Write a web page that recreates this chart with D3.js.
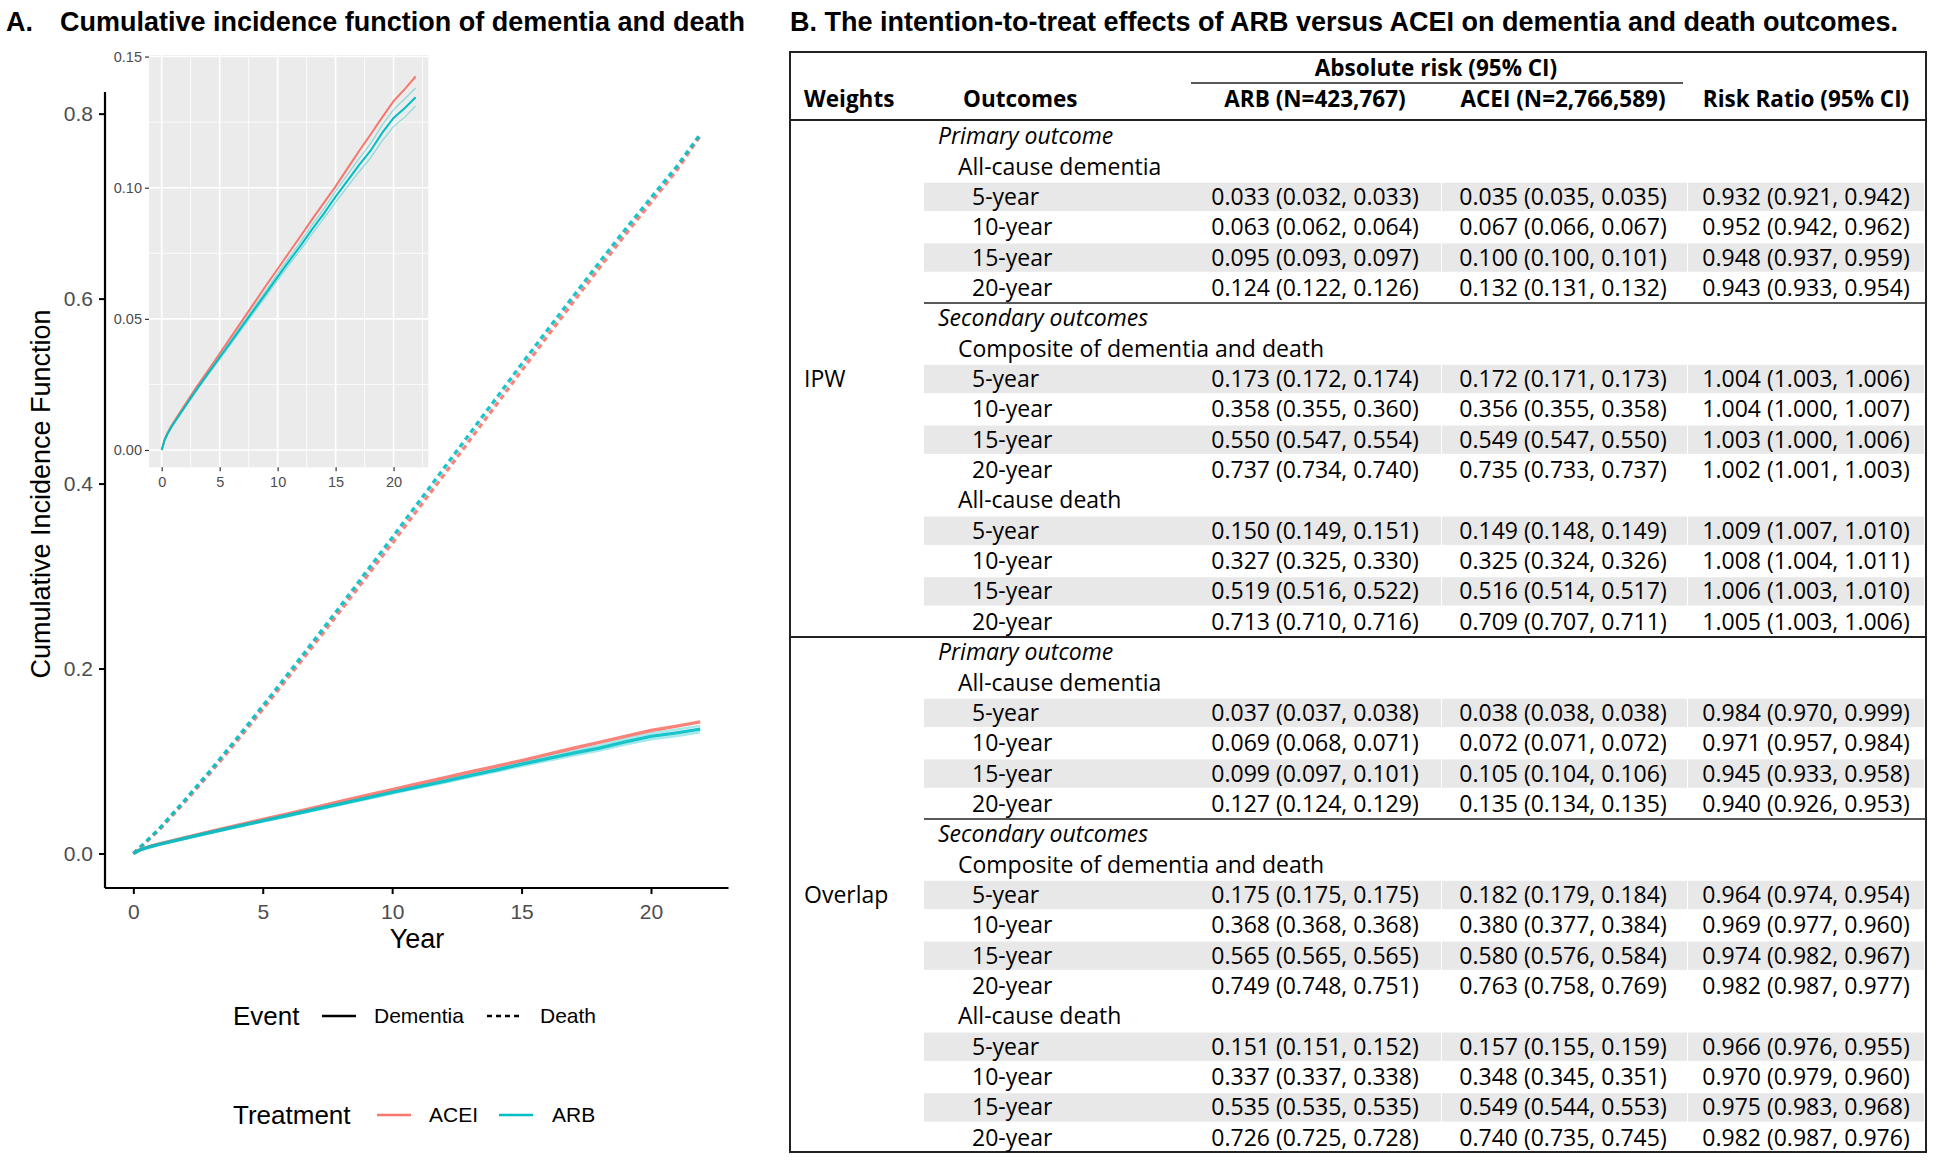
<!DOCTYPE html>
<html>
<head>
<meta charset="utf-8">
<script src="https://cdn.jsdelivr.net/npm/d3@7"></script>
<style>
  body { margin: 0; background: #fff; }
  svg { display: block; }
</style>
</head>
<body>
<svg id="fig" width="1936" height="1162"></svg>
<script>
// ---- curve data ----
var years      = [0, 0.25, 0.5, 0.75, 1, 2, 3, 4, 5, 6, 7, 8, 9, 10, 11, 12, 13, 14, 15, 16, 17, 18, 19, 20, 21, 21.9];
var aceiDem    = [0, 0.0040, 0.0065, 0.0086, 0.0104, 0.0172, 0.0240, 0.0303, 0.0368, 0.0432, 0.0497, 0.0562, 0.0627, 0.0690, 0.0754, 0.0817, 0.0881, 0.0943, 0.1005, 0.1072, 0.1138, 0.1202, 0.1267, 0.1330, 0.1378, 0.1424];
var arbDem     = [0, 0.0037, 0.0061, 0.0081, 0.0099, 0.0165, 0.0230, 0.0292, 0.0353, 0.0414, 0.0476, 0.0537, 0.0598, 0.0660, 0.0721, 0.0780, 0.0843, 0.0902, 0.0966, 0.1025, 0.1085, 0.1140, 0.1208, 0.1266, 0.1305, 0.1345];
var arbDemLo   = [0, 0.0036, 0.0059, 0.0079, 0.0096, 0.0161, 0.0225, 0.0286, 0.0346, 0.0406, 0.0467, 0.0527, 0.0587, 0.0648, 0.0708, 0.0765, 0.0826, 0.0884, 0.0945, 0.1002, 0.1060, 0.1113, 0.1178, 0.1234, 0.1270, 0.1312];
var arbDemHi   = [0, 0.0038, 0.0063, 0.0083, 0.0102, 0.0169, 0.0235, 0.0298, 0.0360, 0.0422, 0.0485, 0.0547, 0.0609, 0.0672, 0.0734, 0.0795, 0.0860, 0.0920, 0.0987, 0.1048, 0.1110, 0.1167, 0.1238, 0.1298, 0.1340, 0.1380];
var aceiDeath  = [0, 0.0060, 0.0125, 0.0190, 0.0255, 0.0560, 0.0880, 0.1215, 0.1560, 0.1910, 0.2265, 0.2625, 0.2990, 0.3355, 0.3725, 0.4095, 0.4470, 0.4845, 0.5220, 0.5595, 0.5965, 0.6330, 0.6690, 0.7040, 0.7390, 0.7760];
var arbDeath   = [0, 0.0065, 0.0132, 0.0200, 0.0268, 0.0580, 0.0905, 0.1245, 0.1595, 0.1950, 0.2310, 0.2675, 0.3045, 0.3415, 0.3790, 0.4165, 0.4540, 0.4915, 0.5290, 0.5660, 0.6025, 0.6390, 0.6745, 0.7090, 0.7430, 0.7775];

var mainYTicks  = [0, 0.2, 0.4, 0.6, 0.8];
var xTicks      = [0, 5, 10, 15, 20];
var insetYTicks = [0, 0.05, 0.10, 0.15];

// ---- table data ----
var weights    = ["IPW", "Overlap"];
var horizons   = ["5-year", "10-year", "15-year", "20-year"];
var ipwARB  = ["0.033 (0.032, 0.033)", "0.063 (0.062, 0.064)", "0.095 (0.093, 0.097)", "0.124 (0.122, 0.126)",
               "0.173 (0.172, 0.174)", "0.358 (0.355, 0.360)", "0.550 (0.547, 0.554)", "0.737 (0.734, 0.740)",
               "0.150 (0.149, 0.151)", "0.327 (0.325, 0.330)", "0.519 (0.516, 0.522)", "0.713 (0.710, 0.716)"];
var ipwACEI = ["0.035 (0.035, 0.035)", "0.067 (0.066, 0.067)", "0.100 (0.100, 0.101)", "0.132 (0.131, 0.132)",
               "0.172 (0.171, 0.173)", "0.356 (0.355, 0.358)", "0.549 (0.547, 0.550)", "0.735 (0.733, 0.737)",
               "0.149 (0.148, 0.149)", "0.325 (0.324, 0.326)", "0.516 (0.514, 0.517)", "0.709 (0.707, 0.711)"];
var ipwRR   = ["0.932 (0.921, 0.942)", "0.952 (0.942, 0.962)", "0.948 (0.937, 0.959)", "0.943 (0.933, 0.954)",
               "1.004 (1.003, 1.006)", "1.004 (1.000, 1.007)", "1.003 (1.000, 1.006)", "1.002 (1.001, 1.003)",
               "1.009 (1.007, 1.010)", "1.008 (1.004, 1.011)", "1.006 (1.003, 1.010)", "1.005 (1.003, 1.006)"];
var ovARB   = ["0.037 (0.037, 0.038)", "0.069 (0.068, 0.071)", "0.099 (0.097, 0.101)", "0.127 (0.124, 0.129)",
               "0.175 (0.175, 0.175)", "0.368 (0.368, 0.368)", "0.565 (0.565, 0.565)", "0.749 (0.748, 0.751)",
               "0.151 (0.151, 0.152)", "0.337 (0.337, 0.338)", "0.535 (0.535, 0.535)", "0.726 (0.725, 0.728)"];
var ovACEI  = ["0.038 (0.038, 0.038)", "0.072 (0.071, 0.072)", "0.105 (0.104, 0.106)", "0.135 (0.134, 0.135)",
               "0.182 (0.179, 0.184)", "0.380 (0.377, 0.384)", "0.580 (0.576, 0.584)", "0.763 (0.758, 0.769)",
               "0.157 (0.155, 0.159)", "0.348 (0.345, 0.351)", "0.549 (0.544, 0.553)", "0.740 (0.735, 0.745)"];
var ovRR    = ["0.984 (0.970, 0.999)", "0.971 (0.957, 0.984)", "0.945 (0.933, 0.958)", "0.940 (0.926, 0.953)",
               "0.964 (0.974, 0.954)", "0.969 (0.977, 0.960)", "0.974 (0.982, 0.967)", "0.982 (0.987, 0.977)",
               "0.966 (0.976, 0.955)", "0.970 (0.979, 0.960)", "0.975 (0.983, 0.968)", "0.982 (0.987, 0.976)"];

var RED = "#F8766D", TEAL = "#00BFC4";
var svg = d3.select("#fig");
var sans = "'Liberation Sans', Arial, sans-serif";
var tfont = "'Open Sans', sans-serif";

// ---- panel titles ----
svg.append("text").attr("x", 6).attr("y", 31).attr("font-family", sans).attr("font-weight", "bold")
   .attr("font-size", 27).text("A.");
svg.append("text").attr("x", 60).attr("y", 31).attr("font-family", sans).attr("font-weight", "bold")
   .attr("font-size", 27).attr("textLength", 685).attr("lengthAdjust", "spacingAndGlyphs")
   .text("Cumulative incidence function of dementia and death");
svg.append("text").attr("x", 790).attr("y", 31).attr("font-family", sans).attr("font-weight", "bold")
   .attr("font-size", 27).attr("textLength", 1108).attr("lengthAdjust", "spacingAndGlyphs")
   .text("B. The intention-to-treat effects of ARB versus ACEI on dementia and death outcomes.");

// ---- main plot ----
var x = d3.scaleLinear().domain([-1.095, 22.995]).range([105, 728.5]);
var y = d3.scaleLinear().domain([-0.0373, 0.8234]).range([888, 92]);

function series(vals) { return years.map(function(t, i) { return [t, vals[i]]; }); }
var line = d3.line().x(function(d) { return x(d[0]); }).y(function(d) { return y(d[1]); });

var main = svg.append("g");
// light CI lines for ARB
[arbDemLo, arbDemHi].forEach(function(v) {
  main.append("path").attr("d", line(series(v))).attr("fill", "none")
      .attr("stroke", TEAL).attr("stroke-opacity", 0.35).attr("stroke-width", 2.5);
});
main.append("path").attr("d", line(series(aceiDeath))).attr("fill", "none").attr("stroke", RED)
    .attr("stroke-width", 3.4).attr("stroke-dasharray", "5 4").attr("stroke-opacity", 0.9);
main.append("path").attr("d", line(series(arbDeath))).attr("fill", "none").attr("stroke", TEAL)
    .attr("stroke-width", 3.4).attr("stroke-dasharray", "5 4").attr("stroke-opacity", 0.9);
main.append("path").attr("d", line(series(aceiDem))).attr("fill", "none").attr("stroke", RED)
    .attr("stroke-width", 3.4).attr("stroke-opacity", 0.9);
main.append("path").attr("d", line(series(arbDem))).attr("fill", "none").attr("stroke", TEAL)
    .attr("stroke-width", 3.4).attr("stroke-opacity", 0.9);

var xAx = main.append("g").attr("transform", "translate(0,888)")
  .call(d3.axisBottom(x).tickValues(xTicks).tickSize(6).tickPadding(6).tickFormat(d3.format("d")));
var yAx = main.append("g").attr("transform", "translate(105,0)")
  .call(d3.axisLeft(y).tickValues(mainYTicks).tickSize(6).tickPadding(6).tickFormat(d3.format(".1f")));
[xAx, yAx].forEach(function(a) {
  a.select(".domain").attr("stroke", "#000").attr("stroke-width", 2.2);
  a.selectAll(".tick line").attr("stroke", "#000").attr("stroke-width", 2);
  a.selectAll(".tick text").attr("fill", "#4D4D4D").attr("font-family", sans).attr("font-size", 21);
});
xAx.select(".domain").attr("d", "M105,0H728.5");
yAx.select(".domain").attr("d", "M0,888V92");
xAx.selectAll(".tick text").attr("dy", "0.9em");

main.append("text").attr("x", 417).attr("y", 948).attr("text-anchor", "middle")
    .attr("font-family", sans).attr("font-size", 27).text("Year");
main.append("text").attr("transform", "translate(50,494) rotate(-90)").attr("text-anchor", "middle")
    .attr("font-family", sans).attr("font-size", 27).text("Cumulative Incidence Function");

// ---- inset ----
var xi = d3.scaleLinear().domain([-1.095, 22.995]).range([149, 428.3]);
var yi = d3.scaleLinear().domain([-0.0066, 0.1506]).range([467.3, 55]);
var lineI = d3.line().x(function(d) { return xi(d[0]); }).y(function(d) { return yi(d[1]); });
var inset = svg.append("g");
inset.append("rect").attr("x", 149).attr("y", 55).attr("width", 279.3).attr("height", 412.3).attr("fill", "#EBEBEB");
var xMinor = [2.5, 7.5, 12.5, 17.5, 22.5], yMinor = [0.025, 0.075, 0.125];
xMinor.forEach(function(v) {
  inset.append("line").attr("x1", xi(v)).attr("x2", xi(v)).attr("y1", 55).attr("y2", 467.3)
       .attr("stroke", "#fff").attr("stroke-width", 0.8);
});
yMinor.forEach(function(v) {
  inset.append("line").attr("x1", 149).attr("x2", 428.3).attr("y1", yi(v)).attr("y2", yi(v))
       .attr("stroke", "#fff").attr("stroke-width", 0.8);
});
xTicks.forEach(function(v) {
  inset.append("line").attr("x1", xi(v)).attr("x2", xi(v)).attr("y1", 55).attr("y2", 467.3)
       .attr("stroke", "#fff").attr("stroke-width", 1.6);
});
insetYTicks.forEach(function(v) {
  inset.append("line").attr("x1", 149).attr("x2", 428.3).attr("y1", yi(v)).attr("y2", yi(v))
       .attr("stroke", "#fff").attr("stroke-width", 1.6);
});
[arbDemLo, arbDemHi].forEach(function(v) {
  inset.append("path").attr("d", lineI(series(v))).attr("fill", "none")
       .attr("stroke", TEAL).attr("stroke-opacity", 0.4).attr("stroke-width", 1.3);
});
inset.append("path").attr("d", lineI(series(aceiDem))).attr("fill", "none").attr("stroke", RED).attr("stroke-width", 2);
inset.append("path").attr("d", lineI(series(arbDem))).attr("fill", "none").attr("stroke", TEAL).attr("stroke-width", 2);

var xiAx = inset.append("g").attr("transform", "translate(0,467.3)")
  .call(d3.axisBottom(xi).tickValues(xTicks).tickSize(4).tickPadding(5).tickFormat(d3.format("d")));
var yiAx = inset.append("g").attr("transform", "translate(149,0)")
  .call(d3.axisLeft(yi).tickValues(insetYTicks).tickSize(4).tickPadding(3).tickFormat(d3.format(".2f")));
[xiAx, yiAx].forEach(function(a) {
  a.select(".domain").remove();
  a.selectAll(".tick line").attr("stroke", "#333").attr("stroke-width", 1.2);
  a.selectAll(".tick text").attr("fill", "#4D4D4D").attr("font-family", sans).attr("font-size", 14.5);
});

// ---- legends ----
var leg = svg.append("g").attr("font-family", sans);
leg.append("text").attr("x", 233).attr("y", 1016).attr("dy", "0.35em").attr("font-size", 26).text("Event");
leg.append("line").attr("x1", 322).attr("x2", 356).attr("y1", 1016).attr("y2", 1016).attr("stroke", "#000").attr("stroke-width", 2.6);
leg.append("text").attr("x", 374).attr("y", 1016).attr("dy", "0.35em").attr("font-size", 21).text("Dementia");
leg.append("line").attr("x1", 487).attr("x2", 522).attr("y1", 1016).attr("y2", 1016).attr("stroke", "#000")
   .attr("stroke-width", 2.6).attr("stroke-dasharray", "5 4");
leg.append("text").attr("x", 540).attr("y", 1016).attr("dy", "0.35em").attr("font-size", 21).text("Death");

leg.append("text").attr("x", 233).attr("y", 1115).attr("dy", "0.35em").attr("font-size", 26).text("Treatment");
leg.append("line").attr("x1", 377).attr("x2", 411).attr("y1", 1115).attr("y2", 1115).attr("stroke", RED).attr("stroke-width", 2.6);
leg.append("text").attr("x", 429).attr("y", 1115).attr("dy", "0.35em").attr("font-size", 21).text("ACEI");
leg.append("line").attr("x1", 499).attr("x2", 533).attr("y1", 1115).attr("y2", 1115).attr("stroke", TEAL).attr("stroke-width", 2.6);
leg.append("text").attr("x", 552).attr("y", 1115).attr("dy", "0.35em").attr("font-size", 21).text("ARB");

// ---- table ----
var T = { left: 790, right: 1926, top: 52, bottom: 1152, hdrLine: 120, rowH: 30.35, blockTop: [121, 637] };
var shadeEdges = [924, 1441, 1687, 1924];
var colCenters = [1315, 1563, 1806];
var tab = svg.append("g").attr("font-family", tfont).attr("font-size", 23).attr("fill", "#000");

tab.append("rect").attr("x", T.left).attr("y", T.top).attr("width", T.right - T.left).attr("height", T.bottom - T.top)
   .attr("fill", "none").attr("stroke", "#222").attr("stroke-width", 2);
tab.append("text").attr("x", 1436).attr("y", 68).attr("dy", "0.35em").attr("text-anchor", "middle")
   .attr("font-weight", "bold").attr("font-size", 22.5).text("Absolute risk (95% CI)");
tab.append("line").attr("x1", 1191).attr("x2", 1683).attr("y1", 83).attr("y2", 83).attr("stroke", "#222").attr("stroke-width", 1.5);
tab.append("text").attr("x", 804).attr("y", 99).attr("dy", "0.35em").attr("font-weight", "bold").attr("font-size", 22.5).text("Weights");
tab.append("text").attr("x", 963).attr("y", 99).attr("dy", "0.35em").attr("font-weight", "bold").attr("font-size", 22.5).text("Outcomes");
["ARB (N=423,767)", "ACEI (N=2,766,589)", "Risk Ratio (95% CI)"].forEach(function(h, i) {
  tab.append("text").attr("x", colCenters[i]).attr("y", 99).attr("dy", "0.35em").attr("text-anchor", "middle")
     .attr("font-weight", "bold").attr("font-size", 22.5).text(h);
});
tab.append("line").attr("x1", T.left).attr("x2", T.right).attr("y1", T.hdrLine).attr("y2", T.hdrLine)
   .attr("stroke", "#222").attr("stroke-width", 2);
tab.append("line").attr("x1", T.left).attr("x2", T.right).attr("y1", T.blockTop[1]).attr("y2", T.blockTop[1])
   .attr("stroke", "#222").attr("stroke-width", 2);

function buildRows(arb, acei, rr) {
  var rows = [];
  rows.push({ label: "Primary outcome", indent: 0, italic: true });
  rows.push({ label: "All-cause dementia", indent: 1 });
  horizons.forEach(function(h, j) { rows.push({ label: h, indent: 2, shade: j % 2 === 0, vals: [arb[j], acei[j], rr[j]] }); });
  rows.push({ label: "Secondary outcomes", indent: 0, italic: true, ruleAbove: true });
  rows.push({ label: "Composite of dementia and death", indent: 1 });
  horizons.forEach(function(h, j) { rows.push({ label: h, indent: 2, shade: j % 2 === 0, vals: [arb[4 + j], acei[4 + j], rr[4 + j]] }); });
  rows.push({ label: "All-cause death", indent: 1 });
  horizons.forEach(function(h, j) { rows.push({ label: h, indent: 2, shade: j % 2 === 0, vals: [arb[8 + j], acei[8 + j], rr[8 + j]] }); });
  return rows;
}
var blocks = [buildRows(ipwARB, ipwACEI, ipwRR), buildRows(ovARB, ovACEI, ovRR)];
var indentX = [938, 958, 972];

blocks.forEach(function(rows, b) {
  var top = T.blockTop[b];
  var g = tab.append("g");
  rows.forEach(function(r, i) {
    var ry = top + i * T.rowH;
    var cy = ry + T.rowH / 2;
    if (r.shade) {
      for (var c = 0; c < 3; c++) {
        g.append("rect").attr("x", shadeEdges[c] + (c ? 1 : 0)).attr("y", ry + 1)
         .attr("width", shadeEdges[c + 1] - shadeEdges[c] - (c ? 1 : 0)).attr("height", T.rowH - 2).attr("fill", "#E8E8E8");
      }
    }
    if (r.ruleAbove) {
      g.append("line").attr("x1", 924).attr("x2", T.right).attr("y1", ry).attr("y2", ry)
       .attr("stroke", "#222").attr("stroke-width", 1.5);
    }
    g.append("text").attr("x", indentX[r.indent]).attr("y", cy).attr("dy", "0.35em")
     .attr("font-style", r.italic ? "italic" : null).text(r.label);
    if (r.vals) {
      r.vals.forEach(function(v, k) {
        g.append("text").attr("x", colCenters[k]).attr("y", cy).attr("dy", "0.35em")
         .attr("text-anchor", "middle").text(v);
      });
    }
  });
  g.append("text").attr("x", 804).attr("y", top + 8.5 * T.rowH).attr("dy", "0.35em").text(weights[b]);
});
</script>
</body>
</html>
